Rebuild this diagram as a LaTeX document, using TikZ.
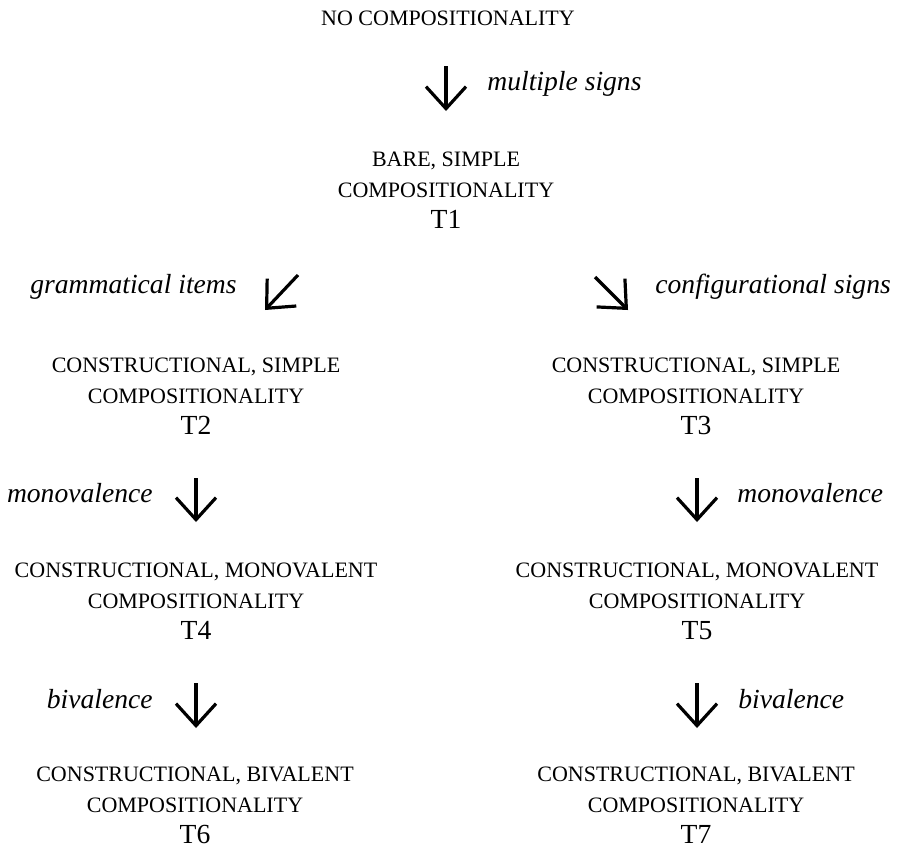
\documentclass[tikz,border=0pt]{standalone}
\usepackage{fontspec}
\setmainfont{Liberation Serif}
\usetikzlibrary{arrows.meta, positioning}

\newcommand{\capsline}[1]{{\fontsize{11}{15.3}\selectfont #1}}

\tikzset{
    stage/.style={align=center, inner sep=0pt, anchor=north, font=\fontsize{13.8}{15.3}\selectfont},
    lbl/.style={inner sep=0pt, font=\fontsize{13.8}{15.3}\selectfont\itshape},
    flow/.style={line width=1.6pt, -{Straight Barb[length=11pt,width=20pt]}}
}

\begin{document}
\begin{tikzpicture}[x=0.5pt, y=-0.5pt]
    \useasboundingbox (0,0) rectangle (897,848);

    % stages
    \node[stage, anchor=base] (none) at (448,25) {\capsline{NO COMPOSITIONALITY}};
    \node[stage] (t1) at (446,152) {\capsline{BARE, SIMPLE}\\\capsline{COMPOSITIONALITY}\\T1};
    \node[stage] (t2) at (196,358) {\capsline{CONSTRUCTIONAL, SIMPLE}\\\capsline{COMPOSITIONALITY}\\T2};
    \node[stage] (t3) at (696,358) {\capsline{CONSTRUCTIONAL, SIMPLE}\\\capsline{COMPOSITIONALITY}\\T3};
    \node[stage] (t4) at (196,563) {\capsline{CONSTRUCTIONAL, MONOVALENT}\\\capsline{COMPOSITIONALITY}\\T4};
    \node[stage] (t5) at (697,563) {\capsline{CONSTRUCTIONAL, MONOVALENT}\\\capsline{COMPOSITIONALITY}\\T5};
    \node[stage] (t6) at (195,767) {\capsline{CONSTRUCTIONAL, BIVALENT}\\\capsline{COMPOSITIONALITY}\\T6};
    \node[stage] (t7) at (696,767) {\capsline{CONSTRUCTIONAL, BIVALENT}\\\capsline{COMPOSITIONALITY}\\T7};

    % arrow ends
    \coordinate (multS) at (446,66);  \coordinate (multE) at (446,111);
    \coordinate (gramS) at (298,275); \coordinate (gramE) at (265,310);
    \coordinate (confS) at (595,277); \coordinate (confE) at (628,310);
    \coordinate (monoLS) at (196,478); \coordinate (monoLE) at (196,522);
    \coordinate (monoRS) at (697,478); \coordinate (monoRE) at (697,522);
    \coordinate (bivLS) at (196,683); \coordinate (bivLE) at (196,728);
    \coordinate (bivRS) at (697,683); \coordinate (bivRE) at (697,728);

    \draw[flow] (multS) -- (multE);
    \draw[flow] (gramS) -- (gramE);
    \draw[flow] (confS) -- (confE);
    \draw[flow] (monoLS) -- (monoLE);
    \draw[flow] (monoRS) -- (monoRE);
    \draw[flow] (bivLS) -- (bivLE);
    \draw[flow] (bivRS) -- (bivRE);

    % labels
    \node[lbl, anchor=base west] (multLbl) at (487,90) {multiple signs};
    \node[lbl, anchor=base east] (gramLbl) at (237,293) {grammatical items};
    \node[lbl, anchor=base west] (confLbl) at (655,293) {configurational signs};
    \node[lbl, anchor=base east] (monoLLbl) at (153,502) {monovalence};
    \node[lbl, anchor=base west] (monoRLbl) at (737,502) {monovalence};
    \node[lbl, anchor=base east] (bivLLbl) at (153,708) {bivalence};
    \node[lbl, anchor=base west] (bivRLbl) at (738,708) {bivalence};
\end{tikzpicture}
\end{document}
